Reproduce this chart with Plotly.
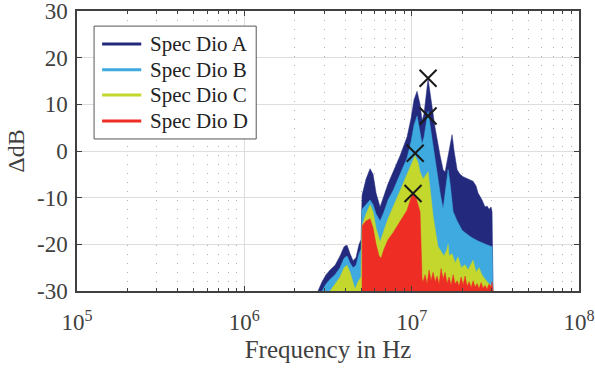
import plotly.graph_objects as go

# ---- data (frequency in MHz, level in dB) ----
freq_a = [2.757, 2.914, 3.079, 3.253, 3.485, 3.733, 3.944, 4.111, 4.284, 4.464, 4.652, 4.848, 4.983,
          5.052, 5.338, 5.640, 5.879, 6.127, 6.475, 6.839, 7.226, 7.743, 8.524, 9.386, 9.917, 10.33,
          10.77, 11.22, 11.54, 11.86, 12.19, 12.53, 13.06, 13.80, 14.79, 15.41, 15.84, 16.51, 16.97,
          17.44, 17.93, 18.69, 19.47, 20.29, 21.73, 23.28, 24.26, 24.93, 26.34, 27.45, 28.22, 29.01,
          29.82, 30.23, 30.65]
db_a = [-30, -28, -26.5, -25.5, -24.5, -22.5, -20.5, -20.2, -22, -23.5, -22.8, -20, -19,
        -9.5, -6, -3.8, -5, -9, -12, -9.5, -7, -4.5, -1, 3, 7, 11,
        12.8, 10, 6.5, 8, 12.5, 15.5, 11, 5, -1, -4, -4.5, -1, 2,
        3.5, 0, -4, -5, -5.5, -6, -6.5, -7.5, -9, -10.5, -12, -11.8, -12.5,
        -12, -13, -30]

freq_b = [2.914, 3.079, 3.253, 3.485, 3.733, 3.944, 4.111, 4.284, 4.464, 4.652, 4.848, 4.983,
          5.052, 5.338, 5.640, 5.879, 6.127, 6.475, 6.839, 7.226, 7.743, 8.524, 9.386, 9.917, 10.33,
          10.77, 11.22, 11.54, 11.86, 12.19, 12.53, 13.06, 13.80, 14.79, 15.41, 16.06, 16.51, 16.97,
          17.69, 18.69, 20.01, 21.73, 22.96, 24.93, 26.34, 28.61, 30.23, 30.65]
db_b = [-30, -28.5, -27.5, -26.5, -25, -23, -22.5, -24, -25, -24.5, -22, -21,
        -12.5, -11.5, -10.5, -11.5, -13.5, -15, -13, -10.5, -8.5, -5, -1.5, 2, 5.5,
        7.5, 4, 1.5, 3, 6, 8.5, 4, -2, -9, -12.5, -8, -4, -7,
        -13, -15, -17, -18, -18.6, -19.3, -19.7, -20.2, -20.5, -30]

freq_c = [3.253, 3.485, 3.733, 3.944, 4.111, 4.284, 4.464, 4.589, 4.782, 4.983,
          5.052, 5.338, 5.640, 5.879, 6.127, 6.475, 6.839, 7.226, 7.743, 8.524, 9.386, 9.917, 10.47,
          10.92, 11.22, 11.70, 12.19, 12.53, 12.88, 13.43, 13.99, 14.38, 14.99, 15.62, 16.28, 16.51,
          16.74, 17.44, 18.18, 18.94, 19.74, 20.86, 21.73, 22.65, 23.28, 24.26, 25.28, 26.34, 27.45,
          28.61, 29.82, 30.65]
db_c = [-30, -28.5, -27, -25, -24.5, -26, -28.5, -29.6, -28, -27,
        -16, -13.5, -11.5, -13, -16.5, -19.5, -17, -14.5, -12, -8.5, -5, -3, -1,
        -2.5, -4.5, -6, -5, -4.5, -8, -14, -18, -20.5, -21.5, -22.5, -21, -20,
        -22.5, -22, -24, -22.7, -25, -24.4, -25.5, -24, -23.4, -26, -25, -26.6, -27.5,
        -28.3, -28.8, -30]

freq_d = [5.052, 5.060, 5.338, 5.640, 5.879, 6.127, 6.386, 6.565, 6.839, 7.226, 7.743, 8.524,
          9.386, 9.917, 10.19, 10.62, 11.07, 11.22, 11.38, 11.54, 11.70, 12.03, 12.36, 12.71,
          13.06, 13.43, 13.80, 14.19, 14.58, 14.99, 15.41, 15.84, 16.28, 16.74, 17.20, 17.69,
          18.18, 18.69, 19.20, 19.74, 20.29, 20.86, 21.44, 22.04, 22.65, 23.28, 23.93, 24.60,
          25.28, 25.98, 26.71, 27.45, 28.22, 29.01, 29.82, 30.23, 30.65]
db_d = [-30, -16, -15, -14.5, -16.5, -20, -22.5, -23, -21, -19, -17.5, -15,
        -12.7, -10, -9, -10, -12, -13, -20, -27.5, -28, -26.5, -28.5, -25.5,
        -27.8, -26, -28, -26.8, -28.6, -25.2, -27.5, -26, -28.4, -27, -28.8, -26.5,
        -28.5, -27.8, -29, -27, -28.7, -26.8, -29, -28, -29.3, -27.8, -29.2, -28.4,
        -29.5, -28.2, -29.4, -28.8, -29.6, -28.5, -29.2, -28, -30]

peak_freq = [12.53, 12.53, 10.50, 10.19]
peak_db = [15.6, 7.5, -0.5, -9.1]

series_names = ["Spec Dio A", "Spec Dio B", "Spec Dio C", "Spec Dio D"]
series_colors = ["#232a7d", "#3eaae0", "#c3d72d", "#ee2d24"]

y_ticks = [-30, -20, -10, 0, 10, 20, 30]
y_tick_labels = ["-30", "-20", "-10", "0", "10", "20", "30"]
x_ticks_hz = [1e5, 1e6, 1e7, 1e8]
x_tick_labels = ["10<sup>5</sup>", "10<sup>6</sup>", "10<sup>7</sup>", "10<sup>8</sup>"]
minor_mult = [2, 3, 4, 5, 6, 7, 8, 9]

FONT = "Times New Roman, Liberation Serif, DejaVu Serif, serif"
Y_MIN = y_ticks[0]

fig = go.Figure()
all_f = [freq_a, freq_b, freq_c, freq_d]
all_d = [db_a, db_b, db_c, db_d]
for f, d, name, col in zip(all_f, all_d, series_names, series_colors):
    xs = [v * 1e6 for v in f] + [f[-1] * 1e6, f[0] * 1e6]
    ys = list(d) + [Y_MIN, Y_MIN]
    fig.add_trace(go.Scatter(x=xs, y=ys, mode="lines", fill="toself", fillcolor=col,
                             line=dict(color=col, width=0.5), name=name, showlegend=False,
                             hoverinfo="skip"))

fig.add_trace(go.Scatter(x=[v * 1e6 for v in peak_freq], y=peak_db, mode="markers",
                         marker=dict(symbol="x-thin", size=17, line=dict(color="#1a1a1a", width=2)),
                         showlegend=False))

axis_common = dict(
    showline=True, linecolor="#404040", linewidth=1.5, mirror="ticks",
    ticks="inside", ticklen=5, tickcolor="#404040", tickwidth=1,
    showgrid=True, gridcolor="#dedede", gridwidth=1, zeroline=False,
    tickfont=dict(family=FONT, size=23, color="#404040"),
    automargin=False, ticklabeloverflow="allow",
)

minor_vals = [m * t for t in x_ticks_hz[:-1] for m in minor_mult]

fig.update_xaxes(type="log", range=[5, 8], tickvals=x_ticks_hz, ticktext=x_tick_labels,
                 ticklabelstandoff=10,
                 title=dict(text="Frequency in Hz", font=dict(family=FONT, size=25, color="#404040"),
                            standoff=6),
                 minor=dict(tickmode="array", tickvals=minor_vals, ticks="inside", ticklen=3,
                            tickcolor="#404040", showgrid=True,
                            gridcolor="#b0b0b0", griddash="1px,8px", gridwidth=1.2),
                 **axis_common)
fig.update_yaxes(range=[-30, 30], tickvals=y_ticks, ticktext=y_tick_labels,
                 ticklabelstandoff=3,
                 title=dict(text="ΔdB", font=dict(family=FONT, size=24, color="#404040"), standoff=6),
                 **axis_common)

# ---- legend box drawn in paper coordinates (MATLAB-style, line samples) ----
leg_x0, leg_x1, leg_y0, leg_y1 = 0.034, 0.357, 0.543, 0.946
line_x0, line_x1, text_x = 0.050, 0.128, 0.141
row_y = [0.882, 0.790, 0.700, 0.607]
shapes = [dict(type="rect", xref="paper", yref="paper", x0=leg_x0, x1=leg_x1, y0=leg_y0, y1=leg_y1,
               fillcolor="white", line=dict(color="#555555", width=1), layer="above")]
annotations = []
for name, col, ry in zip(series_names, series_colors, row_y):
    shapes.append(dict(type="line", xref="paper", yref="paper", x0=line_x0, x1=line_x1, y0=ry, y1=ry,
                       line=dict(color=col, width=3), layer="above"))
    annotations.append(dict(xref="paper", yref="paper", x=text_x, y=ry, text=name, showarrow=False,
                            xanchor="left", yanchor="middle",
                            font=dict(family=FONT, size=21, color="#222222")))

fig.update_layout(
    width=595, height=375,
    margin=dict(l=77, r=16, t=11, b=84),
    paper_bgcolor="white", plot_bgcolor="white",
    font=dict(family=FONT, color="#222222"),
    showlegend=False,
    shapes=shapes, annotations=annotations,
)

fig.write_html("out.html")
